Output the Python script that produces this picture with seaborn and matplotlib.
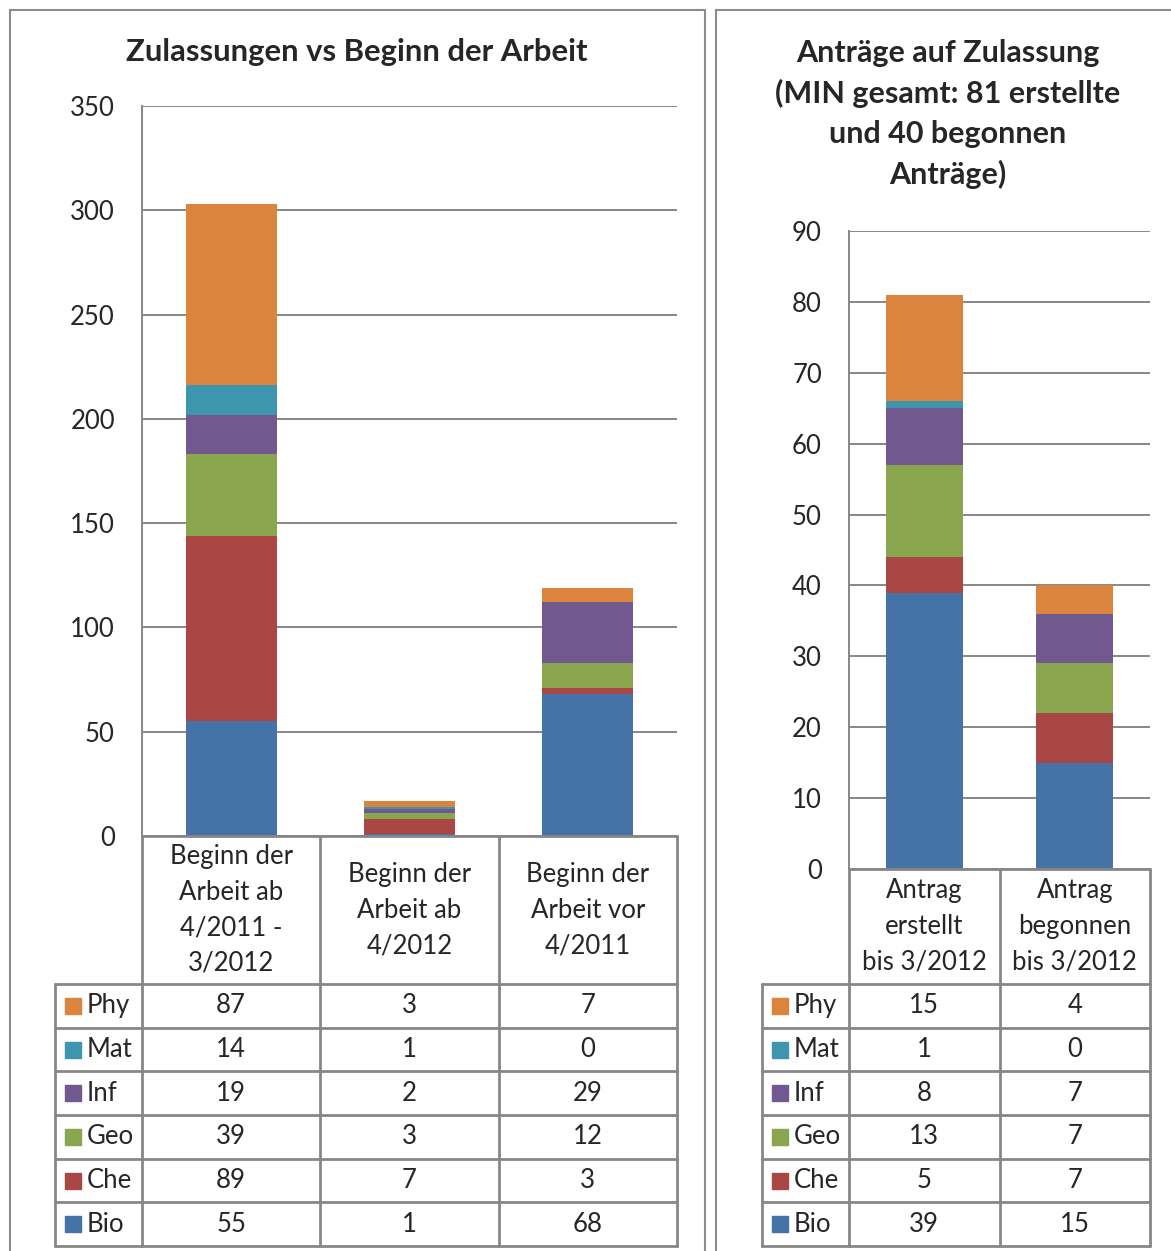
import matplotlib
matplotlib.use("Agg")
import matplotlib.pyplot as plt
import seaborn as sns
import numpy as np
from matplotlib.patches import Rectangle

sns.set_style("white")
plt.rcParams['font.family'] = ['Lato', 'DejaVu Sans']

# ---- data ----
faecher = ["Phy", "Mat", "Inf", "Geo", "Che", "Bio"]          # table order (top -> bottom)
farben = ["#DB843D", "#3D96AE", "#71588F", "#89A54E", "#AA4643", "#4572A7"]

kat_links = ["Beginn der\nArbeit ab\n4/2011 -\n3/2012", "Beginn der\nArbeit ab\n4/2012", "Beginn der\nArbeit vor\n4/2011"]
phy_l = [87, 3, 7]
mat_l = [14, 1, 0]
inf_l = [19, 2, 29]
geo_l = [39, 3, 12]
che_l = [89, 7, 3]
bio_l = [55, 1, 68]

kat_rechts = ["Antrag\nerstellt\nbis 3/2012", "Antrag\nbegonnen\nbis 3/2012"]
phy_r = [15, 4]
mat_r = [1, 0]
inf_r = [8, 7]
geo_r = [13, 7]
che_r = [5, 7]
bio_r = [39, 15]

titel_links = "Zulassungen vs Beginn der Arbeit"
titel_rechts = "Anträge auf Zulassung\n(MIN gesamt: 81 erstellte\nund 40 begonnen\nAnträge)"

W, H = 1171, 1251
GRAU = "#878787"
FS = 18.5
fig = plt.figure(figsize=(W / 100, H / 100), dpi=100)


def fx(px):
    return px / W


def fy(py):
    return 1 - py / H


def panel_rahmen(x0, x1):
    "Rahmen um ein Diagramm"
    fig.patches.append(Rectangle((fx(x0), fy(H + 20)), fx(x1) - fx(x0), fy(10) - fy(H + 20),
                                 transform=fig.transFigure, fill=False, edgecolor="#8C8C8C", lw=1.5))


def gestapelt(box, reihen, kategorien, ymax, step):
    "Gestapelte Balken mit seaborn, von oben nach unten gezeichnet"
    x0, y0, x1, y1 = box
    ax = fig.add_axes([fx(x0), fy(y1), fx(x1) - fx(x0), fy(y0) - fy(y1)])
    idx = [str(i) for i in range(len(kategorien))]
    werte = np.array(reihen)               # rows in table order (Phy..Bio)
    kum = np.cumsum(werte[::-1], axis=0)[::-1]  # stacked tops, Bio at bottom
    for k, c in zip(kum, farben):
        sns.barplot(x=idx, y=k, color=c, width=0.51, saturation=1, linewidth=0, ax=ax, zorder=3)
    ax.set_ylim(0, ymax)
    ax.set_xlim(-0.5, len(kategorien) - 0.5)
    ax.set_yticks(range(0, ymax + 1, step))
    ax.yaxis.grid(True, color=GRAU, lw=1.4, zorder=0)
    ax.set_axisbelow(True)
    ax.set_xticks([])
    ax.set_xlabel("")
    ax.set_ylabel("")
    ax.tick_params(axis="y", length=0, pad=19.5, labelsize=FS)
    for s in ["top", "right", "bottom"]:
        ax.spines[s].set_visible(False)
    ax.spines["left"].set_color(GRAU)
    ax.spines["left"].set_linewidth(1.4)
    return ax


def tabelle(lx, x0, x1, y_top, y_head, y_bot, reihen, kategorien):
    "Datentabelle mit Legendenkästchen"
    n = len(kategorien)
    xs = np.linspace(x0, x1, n + 1)
    ys = np.linspace(y_head, y_bot, len(faecher) + 1)
    kw = dict(color=GRAU, lw=2, transform=fig.transFigure)
    # header
    fig.add_artist(plt.Line2D([fx(x0), fx(x1)], [fy(y_top), fy(y_top)], **kw))
    for x in xs:
        fig.add_artist(plt.Line2D([fx(x), fx(x)], [fy(y_top), fy(y_bot)], **kw))
    fig.add_artist(plt.Line2D([fx(lx), fx(lx)], [fy(y_head), fy(y_bot)], **kw))
    for y in ys:
        fig.add_artist(plt.Line2D([fx(lx), fx(x1)], [fy(y), fy(y)], **kw))
    for i, k in enumerate(kategorien):
        fig.text(fx((xs[i] + xs[i + 1]) / 2), fy((y_top + y_head) / 2), k, ha="center", va="center",
                 fontsize=FS, linespacing=1.53)
    for j, (f, c, r) in enumerate(zip(faecher, farben, reihen)):
        ym = (ys[j] + ys[j + 1]) / 2
        fig.patches.append(Rectangle((fx(lx + 10), fy(ym + 8)), fx(16), 16 / H,
                                     transform=fig.transFigure, color=c))
        fig.text(fx(lx + 32), fy(ym), f, ha="left", va="center", fontsize=FS)
        for i, v in enumerate(r):
            fig.text(fx((xs[i] + xs[i + 1]) / 2), fy(ym), str(v), ha="center", va="center", fontsize=FS)


panel_rahmen(10, 705)
panel_rahmen(716, 1200)

reihen_l = [phy_l, mat_l, inf_l, geo_l, che_l, bio_l]
reihen_r = [phy_r, mat_r, inf_r, geo_r, che_r, bio_r]

gestapelt((142, 106, 677, 836), reihen_l, kat_links, 350, 50)
tabelle(55, 142, 677, 836, 984, 1246, reihen_l, kat_links)

gestapelt((849, 231, 1150, 869), reihen_r, kat_rechts, 90, 10)
tabelle(762, 849, 1150, 869, 984, 1246, reihen_r, kat_rechts)

fig.text(fx(357), fy(52), titel_links, ha="center", va="center", fontsize=22.3, fontweight="bold")
fig.text(fx(948), fy(114), titel_rechts, ha="center", va="center", fontsize=22, fontweight="bold",
         linespacing=1.5)

fig.savefig("out.png", dpi=100)
